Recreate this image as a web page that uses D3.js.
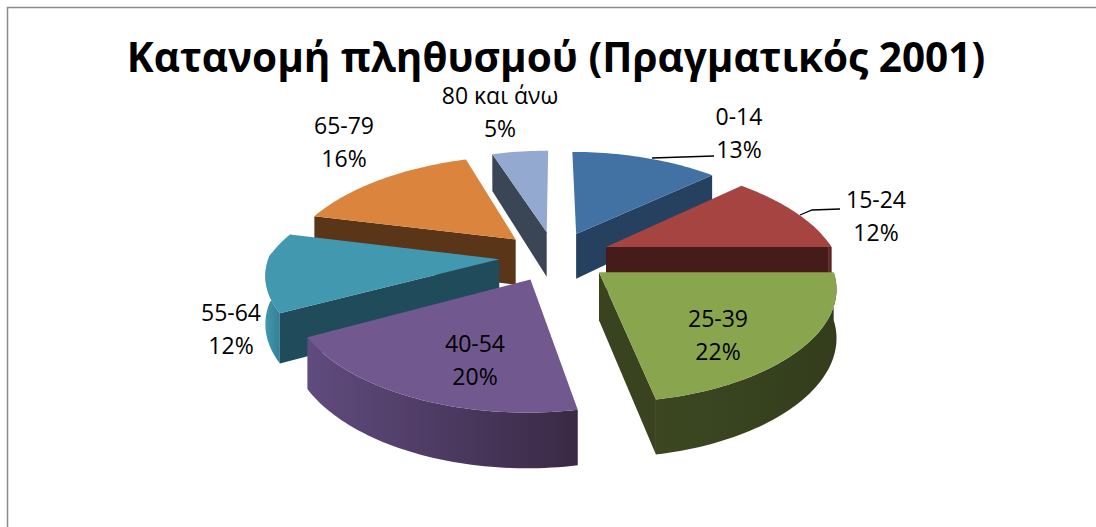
<!DOCTYPE html>
<html>
    <head>
        <meta charset="utf-8">
        <script src="https://d3js.org/d3.v7.js"></script>
        <style>
            body{
                margin: 0;
                background: #fff;
                overflow: hidden;
            }
            text{
                font-family: 'Open Sans', 'Noto Sans', sans-serif;
                fill: #000;
            }
        </style>
    </head>
    <body>
        <svg id="chart" width="1096" height="527"></svg>
        <script>
            const title = 'Κατανομή πληθυσμού (Πραγματικός 2001)'
            const ageGroups = ['0-14', '15-24', '25-39', '40-54', '55-64', '65-79', '80 και άνω']
            const shares = [13, 12, 22, 20, 12, 16, 5]

            const topColours = ['#4272a4', '#a64442', '#89a54e', '#71588f', '#4198af', '#db843d', '#93a9cf']
            const cutColours = ['#26405f', '#451c1a', '#394320', '#3a2a46', '#1f4b5a', '#5a3517', '#3a4556']
            const wallLeft = ['#34587f', '#7f3533', '#3c4722', '#604b7e', '#4198af', '#a8652f', '#6f81a0']
            const wallRight = ['#26405f', '#451c1a', '#333d1c', '#3a2945', '#357f95', '#5a3517', '#3a4556']

            // label centre and first baseline, by slice
            const labelX = [739, 876, 718, 475, 231, 344, 500]
            const labelY = [125, 208, 327, 352, 321, 134, 104]
            const leaders = [
                [[652, 158], [714, 156]],
                [[800, 215], [812, 210], [840, 209]]
            ]

            const w = 1096
            const h = 527
            const cx = 555
            const cy = 256
            const radius = 230
            const explode = 56
            const depth = 47
            const tilt = 0.445
            const focalFront = 1800
            const focalBack = 1000
            const focalY = 1387

            const svg = d3.select('#chart')
            const defs = svg.append('defs')

            svg.append('path')
                .attr('d', `M${w},7.5H7.5V${h}`)
                .attr('fill', 'none')
                .attr('stroke', '#8c8c8c')
                .attr('stroke-width', 1.5)

            svg.append('text')
                .attr('x', 556)
                .attr('y', 72)
                .attr('text-anchor', 'middle')
                .attr('font-size', 40.5)
                .attr('font-weight', 700)
                .text(title)

            // world x to the right, y to the viewer, z up
            function project(x, y, z){
                const fx = y < 0 ? focalBack : focalFront
                const sx = fx / (fx - y)
                const sy = focalY / (focalY - y)
                return [cx + x * sx, cy + y * tilt * sy - z * sx]
            }

            const line = d3.line()
            const pie = d3.pie().sort(null).value(d => d)(shares)

            const slices = pie.map(d => {
                const mid = (d.startAngle + d.endAngle) / 2
                return {
                    i: d.index,
                    a0: d.startAngle,
                    a1: d.endAngle,
                    ox: explode * Math.sin(mid),
                    oy: -explode * Math.cos(mid)
                }
            })

            // back slices first
            slices.sort((a, b) => a.oy - b.oy)

            slices.forEach(s => {
                const g = svg.append('g')
                const n = Math.max(8, Math.ceil((s.a1 - s.a0) * 40))
                const angles = d3.range(n + 1).map(k => s.a0 + (s.a1 - s.a0) * k / n)
                const rim = (a, z) => project(s.ox + radius * Math.sin(a), s.oy - radius * Math.cos(a), z)
                const apex = z => project(s.ox, s.oy, z)

                // radial cut faces, only those that face the viewer
                if(-Math.sin(s.a0) > 0){
                    g.append('path')
                        .attr('d', line([apex(0), rim(s.a0, 0), rim(s.a0, -depth), apex(-depth)]) + 'Z')
                        .attr('fill', cutColours[s.i])
                }
                if(Math.sin(s.a1) > 0){
                    g.append('path')
                        .attr('d', line([apex(0), rim(s.a1, 0), rim(s.a1, -depth), apex(-depth)]) + 'Z')
                        .attr('fill', cutColours[s.i])
                }

                // outer wall, the part where the rim runs right to left on screen
                const front = angles.filter(a => Math.cos(a) < 0.06)
                if(front.length > 1){
                    const xs = d3.extent(front, a => rim(a, 0)[0])
                    const grad = defs.append('linearGradient')
                        .attr('id', 'wall' + s.i)
                        .attr('gradientUnits', 'userSpaceOnUse')
                        .attr('x1', xs[0])
                        .attr('x2', xs[1])
                        .attr('y1', 0)
                        .attr('y2', 0)
                    grad.append('stop').attr('offset', 0).attr('stop-color', wallLeft[s.i])
                    grad.append('stop').attr('offset', 1).attr('stop-color', wallRight[s.i])
                    const pts = front.map(a => rim(a, 0)).concat(front.slice().reverse().map(a => rim(a, -depth)))
                    g.append('path')
                        .attr('d', line(pts) + 'Z')
                        .attr('fill', `url(#wall${s.i})`)
                }

                g.append('path')
                    .attr('d', line([apex(0)].concat(angles.map(a => rim(a, 0)))) + 'Z')
                    .attr('fill', topColours[s.i])
            })

            leaders.forEach(pts => {
                svg.append('path')
                    .attr('d', line(pts))
                    .attr('fill', 'none')
                    .attr('stroke', '#000')
                    .attr('stroke-width', 1.3)
            })

            const labels = svg.append('g')
                .attr('text-anchor', 'middle')
                .attr('font-size', 23)

            ageGroups.forEach((name, i) => {
                labels.append('text')
                    .attr('x', labelX[i])
                    .attr('y', labelY[i])
                    .text(name)
                labels.append('text')
                    .attr('x', labelX[i])
                    .attr('y', labelY[i] + 33)
                    .text(shares[i] + '%')
            })
        </script>
    </body>
</html>
